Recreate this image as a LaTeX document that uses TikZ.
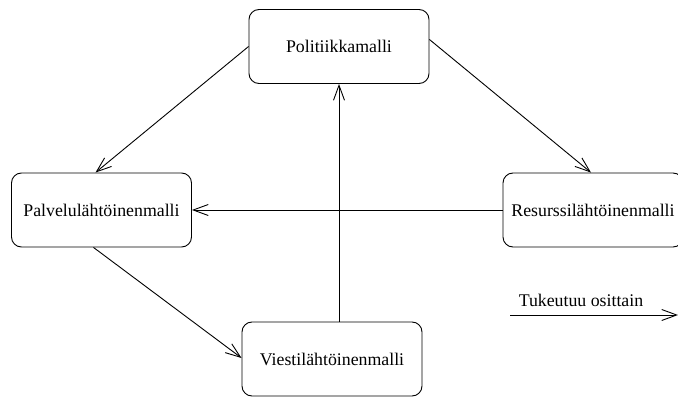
\documentclass[tikz,border=0pt]{standalone}
\usepackage{fontspec}
\setmainfont{Liberation Serif}
\usetikzlibrary{arrows.meta}
\begin{document}
\begin{tikzpicture}[x=1pt,y=1pt,
  model/.style={draw, line width=0.9pt, rounded corners=10pt,
    minimum width=180pt, minimum height=74pt, inner sep=0pt,
    font=\fontsize{17.8}{20}\selectfont},
  arr/.style={line width=0.9pt, -{Straight Barb[length=15pt,width=11pt,line width=0.9pt]}},
  lbl/.style={font=\fontsize{17.8}{20}\selectfont, inner sep=0pt}]
\useasboundingbox (0,0) rectangle (678,397);
\clip (0,0) rectangle (678,397);

% the four models
\node[model] (pol) at (339,350.5) {Politiikkamalli};
\node[model] (pal) at (101.5,187) {Palvelulähtöinenmalli};
\node[model] (res) at (593,187) {Resurssilähtöinenmalli};
\node[model] (vie) at (332,38) {Viestilähtöinenmalli};

% dependencies between the models
\draw[arr] (pol.west) -- ([xshift=-6pt]pal.north);
\draw[arr] ([yshift=7pt]pol.east) -- ([xshift=-2pt]res.north);
\draw[arr] (res.west) -- (pal.east);
\draw[arr] ([xshift=-8pt]pal.south) -- ([yshift=1pt]vie.west);
\draw[arr] (vie.north -| pol.south) -- (pol.south);

% legend
\coordinate (la) at (510,82);
\coordinate (lb) at (678,82);
\draw[arr] (la) -- (lb);
\node[lbl] (lt) at (581,97) {Tukeutuu osittain};
\end{tikzpicture}
\end{document}
